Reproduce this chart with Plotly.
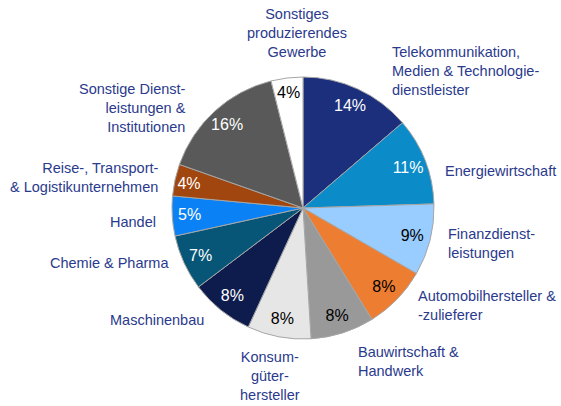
import plotly.graph_objects as go

W, H = 561, 406

branchen = [
    "Telekommunikation,<br>Medien & Technologie-<br>dienstleister",
    "Energiewirtschaft",
    "Finanzdienst-<br>leistungen",
    "Automobilhersteller &<br>-zulieferer",
    "Bauwirtschaft &<br>Handwerk",
    "Konsum-<br>güter-<br>hersteller",
    "Maschinenbau",
    "Chemie & Pharma",
    "Handel",
    "Reise-, Transport-<br>& Logistikunternehmen",
    "Sonstige Dienst-<br>leistungen &<br>Institutionen",
    "Sonstiges<br>produzierendes<br>Gewerbe",
]
anteile = [14, 11, 9, 8, 8, 8, 8, 7, 5, 4, 16, 4]

farben = ["#1b2f7c", "#0b8cc9", "#99ccff", "#ed7d31", "#999999", "#e6e6e6",
          "#0e1c4d", "#075678", "#0a82f5", "#a0460e", "#595959", "#ffffff"]
textfarben = ["white", "white", "black", "black", "black", "black",
              "white", "white", "white", "white", "white", "black"]

# label placement in pixels (x, y, anchor) -- hand placed like in the original
label_pos = [
    (390, 71, "left"), (443, 171, "left"), (446, 243, "left"),
    (416, 305, "left"), (356, 361, "left"), (270, 376, "center"),
    (206, 320, "right"), (171, 263, "right"), (158, 222, "right"),
    (160, 177, "right"), (188, 108, "right"), (297, 33, "center"),
]

cx, cy, r = 303, 208, 131
domain = dict(x=[(cx - r) / W, (cx + r) / W],
              y=[(H - cy - r) / H, (H - cy + r) / H])
labels = [b.replace("<br>", " ") for b in branchen]

fig = go.Figure()
# the slices
fig.add_trace(go.Pie(
    labels=labels, values=anteile, sort=False,
    direction="clockwise", rotation=0, textinfo="none",
    marker=dict(colors=farben, line=dict(color="#a6a6a6", width=1)),
    hoverinfo="label+percent", domain=domain, showlegend=False,
))
# same slices again as a transparent ring, only to carry the percent texts near the rim
fig.add_trace(go.Pie(
    labels=labels, values=anteile, sort=False,
    direction="clockwise", rotation=0, hole=0.72,
    texttemplate="%{value}%", textposition="inside",
    insidetextorientation="horizontal",
    textfont=dict(color=textfarben, size=16, family="Liberation Sans, Arial"),
    marker=dict(colors=["rgba(0,0,0,0)"] * len(anteile), line=dict(width=0)),
    hoverinfo="skip", domain=domain, showlegend=False,
))

for text, (x, y, anchor) in zip(branchen, label_pos):
    fig.add_annotation(
        x=x / W, y=1 - y / H, xref="paper", yref="paper",
        text=text, showarrow=False, xanchor=anchor, yanchor="middle",
        align=anchor, font=dict(size=14.5, color="#2a3a8c", family="Liberation Sans, Arial"),
    )

fig.update_layout(
    width=W, height=H,
    margin=dict(l=0, r=0, t=0, b=0),
    paper_bgcolor="white",
    plot_bgcolor="white",
    uniformtext=dict(minsize=16, mode="show"),
)

fig.write_html("out.html", config={"displayModeBar": False},
               post_script="document.body.style.margin='0';")
